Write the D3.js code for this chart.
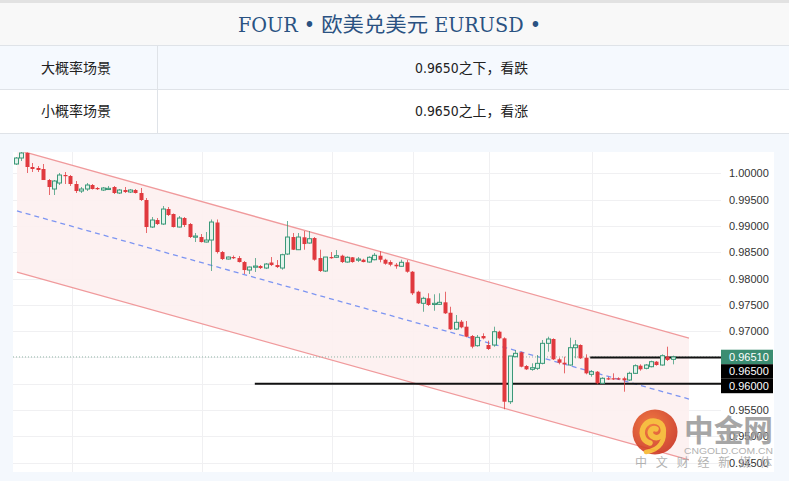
<!DOCTYPE html>
<html><head><meta charset="utf-8">
<script src="https://cdn.jsdelivr.net/npm/d3@7"></script>
<style>
html,body{margin:0;padding:0;background:#f4f8fd;}
svg{display:block;}
</style></head>
<body>
<svg id="c" width="789" height="481"></svg>
<script>
// ---------- DATA ----------
const titleText = "FOUR • 欧美兑美元  EURUSD •";
const rowLabels = ["大概率场景", "小概率场景"];
const rowValues = ["0.9650之下，看跌", "0.9650之上，看涨"];

const opens = [
1.00175,1.00289,1.00384,1.00118,1.00099,1.00080,0.99871,0.99700,0.99814,0.99966,
0.99947,0.99795,0.99662,0.99700,0.99776,0.99719,0.99681,0.99700,0.99738,0.99624,
0.99681,0.99643,0.99681,0.99624,0.99491,0.98978,0.99111,0.99035,0.99320,0.99225,
0.98978,0.99149,0.99035,0.98788,0.98788,0.98693,0.98731,0.99064,0.98503,0.98370,
0.98408,0.98389,0.98313,0.98161,0.98218,0.98237,0.98199,0.98304,0.98256,0.98199,
0.98465,0.98788,0.98547,0.98783,0.98674,0.98769,0.98389,0.98142,0.98408,0.98403,
0.98433,0.98313,0.98403,0.98351,0.98357,0.98313,0.98357,0.98433,0.98357,0.98313,
0.98262,0.98232,0.98308,0.98129,0.97749,0.97529,0.97624,0.97510,0.97510,0.97548,
0.97350,0.97041,0.97180,0.97085,0.96908,0.96724,0.96908,0.96737,0.96737,0.96990,
0.96864,0.95660,0.96515,0.96598,0.96338,0.96275,0.96294,0.96389,0.96769,0.96851,
0.96465,0.96401,0.96357,0.96686,0.96737,0.96496,0.96180,0.96230,0.96010,0.96105,
0.96105,0.96105,0.96105,0.96072,0.96199,0.96344,0.96294,0.96325,0.96420,0.96357,
0.96515,0.96465];
const highs = [
1.00308,1.00422,1.00393,1.00194,1.00137,1.00175,0.99890,0.99871,1.00004,1.00023,
0.99966,0.99852,0.99738,0.99814,0.99795,0.99738,0.99738,0.99757,0.99757,0.99700,
0.99738,0.99700,0.99700,0.99719,0.99529,0.99168,0.99149,0.99377,0.99358,0.99235,
0.99187,0.99168,0.99054,0.98864,0.98845,0.98883,0.99121,0.99121,0.98522,0.98418,
0.98437,0.98427,0.98332,0.98228,0.98389,0.98256,0.98294,0.98408,0.98351,0.98471,
0.99092,0.98864,0.98864,0.98902,0.98902,0.98788,0.98547,0.98408,0.98503,0.98541,
0.98452,0.98422,0.98408,0.98408,0.98376,0.98422,0.98484,0.98517,0.98376,0.98346,
0.98294,0.98357,0.98351,0.98143,0.97768,0.97654,0.97719,0.97700,0.97719,0.97749,
0.97464,0.97307,0.97212,0.97193,0.96927,0.96927,0.96959,0.96819,0.97085,0.97009,
0.96883,0.96528,0.96642,0.96610,0.96357,0.96389,0.96547,0.96832,0.96895,0.96864,
0.96496,0.96515,0.96876,0.96832,0.96750,0.96560,0.96262,0.96243,0.96124,0.96135,
0.96199,0.96124,0.96135,0.96230,0.96370,0.96370,0.96376,0.96439,0.96433,0.96560,
0.96705,0.96534];
const lows = [
1.00156,1.00232,1.00004,1.00023,1.00023,0.99871,0.99586,0.99586,0.99776,0.99795,
0.99757,0.99624,0.99624,0.99662,0.99690,0.99681,0.99662,0.99681,0.99605,0.99605,
0.99624,0.99624,0.99614,0.99472,0.98864,0.98959,0.99016,0.99016,0.99187,0.98969,
0.98969,0.98978,0.98769,0.98693,0.98684,0.98684,0.98143,0.98475,0.98351,0.98361,
0.98370,0.98304,0.98086,0.98086,0.98124,0.98180,0.98180,0.98237,0.98199,0.98167,
0.98446,0.98541,0.98541,0.98547,0.98661,0.98338,0.98124,0.98124,0.98376,0.98389,
0.98294,0.98300,0.98300,0.98313,0.98308,0.98300,0.98346,0.98308,0.98262,0.98232,
0.98186,0.98224,0.98110,0.97687,0.97516,0.97369,0.97478,0.97388,0.97497,0.97326,
0.97022,0.97022,0.97054,0.96883,0.96674,0.96705,0.96845,0.96642,0.96705,0.96845,
0.95516,0.95616,0.96503,0.96313,0.96262,0.96249,0.96262,0.96370,0.96610,0.96452,
0.96370,0.96199,0.96344,0.96484,0.96471,0.96180,0.96135,0.95991,0.95996,0.96072,
0.96072,0.96072,0.95850,0.96053,0.96186,0.96249,0.96275,0.96313,0.96344,0.96344,
0.96433,0.96370];
const closes = [
1.00289,1.00384,1.00118,1.00080,1.00061,0.99871,0.99738,0.99852,0.99966,0.99947,
0.99795,0.99662,0.99700,0.99776,0.99700,0.99700,0.99719,0.99713,0.99624,0.99681,
0.99643,0.99681,0.99624,0.99491,0.98978,0.99111,0.99035,0.99320,0.99206,0.98978,
0.99149,0.99016,0.98788,0.98807,0.98693,0.98731,0.99073,0.98503,0.98370,0.98408,
0.98389,0.98313,0.98161,0.98218,0.98237,0.98199,0.98275,0.98256,0.98218,0.98452,
0.98788,0.98547,0.98788,0.98655,0.98756,0.98357,0.98142,0.98408,0.98389,0.98433,
0.98313,0.98403,0.98313,0.98370,0.98313,0.98403,0.98441,0.98357,0.98281,0.98262,
0.98232,0.98308,0.98129,0.97719,0.97529,0.97624,0.97497,0.97529,0.97548,0.97339,
0.97035,0.97168,0.97073,0.96895,0.96705,0.96883,0.96864,0.96661,0.96990,0.96864,
0.95660,0.96528,0.96579,0.96325,0.96275,0.96306,0.96389,0.96769,0.96851,0.96465,
0.96401,0.96370,0.96686,0.96737,0.96484,0.96199,0.96230,0.96010,0.96105,0.96086,
0.96086,0.96086,0.96067,0.96199,0.96344,0.96275,0.96357,0.96420,0.96357,0.96534,
0.96452,0.96510];

const yTickValues = [1.000,0.995,0.990,0.985,0.980,0.975,0.970,0.965,0.960,0.955,0.950,0.945];
const vGridIdx = [10.3, 34.3, 58.2, 73.2, 87.2, 106.1];
const channelIdx = [0.18, 124.0];
const channelUpper = [1.00444, 0.96870];
const channelLower = [0.98123, 0.94553];
const levelPrices = [0.9650, 0.9600];
const levelStartIdx = [105.8, 44.0];
const lastPrice = 0.96510;
const watermarkTexts = ["中金网", "CNGOLD.COM.CN", "中 文 财 经 新 媒 体"];

// ---------- LAYOUT ----------
const svg = d3.select("#c");
const W = 789;
const CJK = "'Noto Sans CJK SC','Noto Sans',sans-serif";

// top table
svg.append("rect").attr("x",0).attr("y",0).attr("width",W).attr("height",481).attr("fill","#f4f8fd");
svg.append("rect").attr("x",0).attr("y",0).attr("width",W).attr("height",3).attr("fill","#e2e2e2");
svg.append("rect").attr("x",0).attr("y",3).attr("width",W).attr("height",42).attr("fill","#f8f8f8");
svg.append("rect").attr("x",0).attr("y",45).attr("width",W).attr("height",44).attr("fill","#f5f9fe");
svg.append("rect").attr("x",0).attr("y",89).attr("width",W).attr("height",44).attr("fill","#ffffff");
[45,89,133].forEach(yy=>svg.append("line").attr("x1",0).attr("x2",W).attr("y1",yy+0.5).attr("y2",yy+0.5).attr("stroke","#dfe3e8"));
svg.append("line").attr("x1",157.5).attr("x2",157.5).attr("y1",45).attr("y2",133).attr("stroke","#dfe3e8");

svg.append("text").attr("x",389.5).attr("y",32).attr("text-anchor","middle")
  .attr("font-family","'DejaVu Serif Condensed','Liberation Serif','Noto Sans CJK SC',serif")
  .attr("font-size",20).attr("fill","#2a5282")
  .attr("textLength",303).attr("lengthAdjust","spacingAndGlyphs")
  .text(titleText);

rowLabels.forEach((t,i)=>{
  svg.append("text").attr("x",76).attr("y",73+i*43).attr("text-anchor","middle")
    .attr("font-family",CJK).attr("font-size",14).attr("fill","#222").text(t);
  svg.append("text").attr("x",471.5).attr("y",73+i*43).attr("text-anchor","middle")
    .attr("font-family","'Liberation Sans Narrow','DejaVu Sans Condensed','Noto Sans CJK SC',sans-serif")
    .attr("font-size",14).attr("fill","#222")
    .attr("textLength",113).attr("lengthAdjust","spacingAndGlyphs").text(rowValues[i]);
});

// chart area
const L=13, R=721, T=152, B=472;
svg.append("rect").attr("x",L).attr("y",T).attr("width",774-L).attr("height",B-T).attr("fill","#ffffff");

const x = d3.scaleLinear().domain([-0.553, 129.9]).range([L, R]);
const y = d3.scaleLinear().domain([0.94325, 1.00403]).range([B, T]);

svg.append("defs").append("clipPath").attr("id","plotclip")
  .append("rect").attr("x",L).attr("y",T).attr("width",R-L).attr("height",B-T);

const g = svg.append("g").attr("clip-path","url(#plotclip)");

// grid
g.selectAll(".hg").data(yTickValues).join("line")
  .attr("x1",L).attr("x2",R).attr("y1",d=>Math.round(y(d))+0.5).attr("y2",d=>Math.round(y(d))+0.5)
  .attr("stroke","#f0f0f2").attr("stroke-width",1);
g.selectAll(".vg").data(vGridIdx).join("line")
  .attr("x1",d=>Math.round(x(d))+0.5).attr("x2",d=>Math.round(x(d))+0.5).attr("y1",T).attr("y2",B)
  .attr("stroke","#f0f0f2").attr("stroke-width",1);

// channel
const poly = [[x(channelIdx[0]),y(channelUpper[0])],[x(channelIdx[1]),y(channelUpper[1])],
              [x(channelIdx[1]),y(channelLower[1])],[x(channelIdx[0]),y(channelLower[0])]];
g.append("path").attr("d","M"+poly.map(p=>p.join(",")).join("L")+"Z").attr("fill","#fdeff0").attr("opacity",0.9);
const lineGen = d3.line().x(d=>x(d[0])).y(d=>y(d[1]));
g.append("path").attr("d",lineGen([[channelIdx[0],channelUpper[0]],[channelIdx[1],channelUpper[1]]]))
  .attr("stroke","#f09a9c").attr("stroke-width",1.3).attr("fill","none");
g.append("path").attr("d",lineGen([[channelIdx[0],channelLower[0]],[channelIdx[1],channelLower[1]]]))
  .attr("stroke","#f09a9c").attr("stroke-width",1.3).attr("fill","none");
g.append("path").attr("d",lineGen([[channelIdx[0],(channelUpper[0]+channelLower[0])/2],[channelIdx[1],(channelUpper[1]+channelLower[1])/2]]))
  .attr("stroke","#7d95f2").attr("stroke-width",1.3).attr("stroke-dasharray","5,4").attr("fill","none");

// last price dotted line
g.append("line").attr("x1",L).attr("x2",R).attr("y1",y(lastPrice)).attr("y2",y(lastPrice))
  .attr("stroke","#8fb5a6").attr("stroke-width",1).attr("stroke-dasharray","1,2");

// level lines
levelPrices.forEach((p,i)=>{
  g.append("line").attr("x1",x(levelStartIdx[i])).attr("x2",R).attr("y1",y(p)).attr("y2",y(p))
    .attr("stroke","#111").attr("stroke-width",2);
});

// candles
const data = opens.map((o,i)=>({i,o,h:highs[i],l:lows[i],c:closes[i]}));
const UP_STROKE="#3a9878", UP_FILL="#e4f3ec", DOWN="#e0393e";
const cg = g.append("g");
cg.selectAll(".wick").data(data).join("line")
  .attr("x1",d=>Math.round(x(d.i))+0.5).attr("x2",d=>Math.round(x(d.i))+0.5)
  .attr("y1",d=>y(d.h)).attr("y2",d=>y(d.l))
  .attr("stroke",d=>d.c>=d.o?UP_STROKE:DOWN).attr("stroke-opacity",0.75).attr("stroke-width",1);
cg.selectAll(".body").data(data).join("rect")
  .attr("x",d=>d.c>=d.o?Math.round(x(d.i))-1.5:Math.round(x(d.i))-1.5)
  .attr("width",d=>d.c>=d.o?4:4)
  .attr("y",d=>y(Math.max(d.o,d.c)))
  .attr("height",d=>Math.max(1.2,Math.abs(y(d.o)-y(d.c))))
  .attr("fill",d=>d.c>=d.o?UP_FILL:DOWN)
  .attr("stroke",d=>d.c>=d.o?UP_STROKE:"none")
  .attr("stroke-width",1);

// right axis
const axis = d3.axisRight(y).tickValues(yTickValues).tickSize(0).tickPadding(8)
  .tickFormat(d3.format(".5f"));
const ag = svg.append("g").attr("transform",`translate(${R},0)`).call(axis);
ag.select(".domain").remove();
ag.selectAll("text").attr("font-family","'Liberation Sans',Arial,sans-serif").attr("font-size",11).attr("fill","#333");

// price boxes
const boxes = [{p:lastPrice,fill:"#3b8d72"},{p:levelPrices[0],fill:"#000"},{p:levelPrices[1],fill:"#000"}];
let prevBottom = -Infinity;
const BH = 14.5;
boxes.forEach(b=>{
  let cy = y(b.p);
  if (cy - BH/2 < prevBottom) cy = prevBottom + BH/2;
  prevBottom = cy + BH/2;
  svg.append("rect").attr("x",R).attr("y",cy-BH/2).attr("width",52).attr("height",BH).attr("fill",b.fill);
  svg.append("text").attr("x",R+8).attr("y",cy+4).attr("font-family","'Liberation Sans',Arial,sans-serif")
    .attr("font-size",11).attr("fill","#fff").text(d3.format(".5f")(b.p));
});

// watermark
const wm = svg.append("g").attr("opacity",0.88);
const grad = svg.select("defs").append("radialGradient").attr("id","lg").attr("cx","40%").attr("cy","35%").attr("r","70%");
grad.append("stop").attr("offset","0%").attr("stop-color","#ef6a2a");
grad.append("stop").attr("offset","100%").attr("stop-color","#c92e1c");
wm.append("circle").attr("cx",655).attr("cy",432).attr("r",22.5).attr("fill","url(#lg)");
wm.append("path").attr("d","M650,443 C642,441 640,431 645,425 C650,419 661,420 663,428 C665,436 657,440 652,436 C648,432 652,427 656,429")
  .attr("fill","none").attr("stroke","#f6b62a").attr("stroke-width",5.5).attr("stroke-linecap","round");
wm.append("path").attr("d","M663,428 C666,440 660,450 646,452")
  .attr("fill","none").attr("stroke","#f6b62a").attr("stroke-width",4.5).attr("stroke-linecap","round");
wm.append("text").attr("x",684).attr("y",441).attr("font-family",CJK).attr("font-weight","bold")
  .attr("font-size",30).attr("fill","#9a9a9a").attr("textLength",89).attr("lengthAdjust","spacingAndGlyphs").text(watermarkTexts[0]);
wm.append("text").attr("x",684).attr("y",454).attr("font-family","'Liberation Sans',Arial,sans-serif")
  .attr("font-size",9.5).attr("fill","#a8a8a8").attr("textLength",89).attr("lengthAdjust","spacingAndGlyphs").text(watermarkTexts[1]);
wm.append("text").attr("x",635).attr("y",467).attr("font-family",CJK)
  .attr("font-size",12).attr("fill","#a8a8a8").attr("textLength",137).attr("lengthAdjust","spacing").text(watermarkTexts[2]);
</script>
</body></html>
